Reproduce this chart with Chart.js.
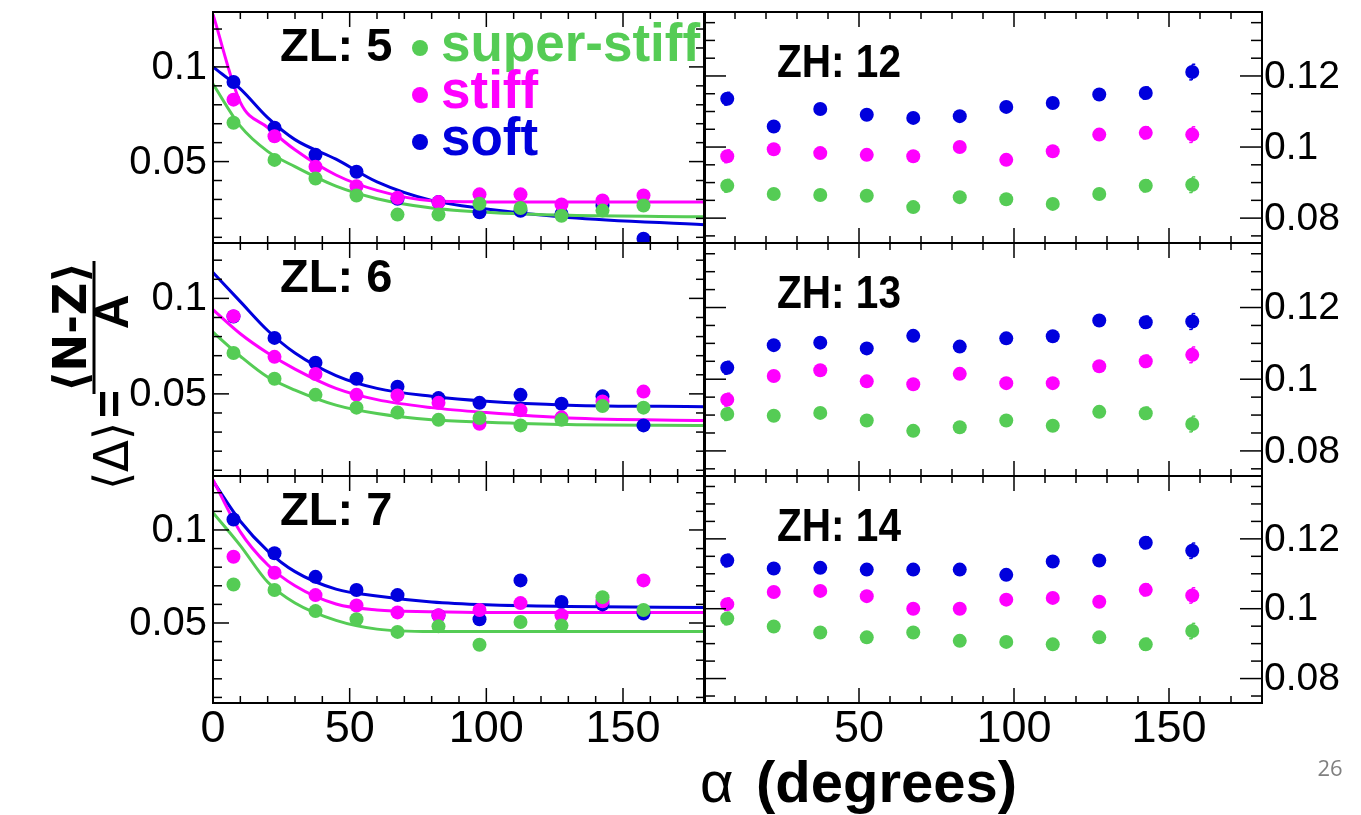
<!DOCTYPE html>
<html>
<head>
<meta charset="utf-8">
<script src="https://cdn.jsdelivr.net/npm/chart.js@4.4.0/dist/chart.umd.min.js"></script>
<style>
  html, body { margin: 0; padding: 0; background: #fff; }
  #wrap { position: relative; width: 1361px; height: 815px; overflow: hidden; }
  #wrap canvas { position: absolute; left: 0; top: 0; }
</style>
</head>
<body>
<div id="wrap"></div>
<script>
// emission angle of each point (degrees), same in every panel
const alpha = [7.5, 22.5, 37.5, 52.5, 67.5, 82.5, 97.5, 112.5, 127.5, 142.5, 157.5];
// typical error bar half-height at each angle (larger at the edges)
const typicalErr = [0.0018, 0.0008, 0.0007, 0.0007, 0.0007, 0.0008, 0.0009, 0.0010, 0.0013, 0.0017, 0.0022];
const fitX = [0, 10, 20, 30, 45, 60, 80, 100, 130, 180];

// ZL: 5
const zl5SuperStiff = [0.0705, 0.0509, 0.0411, 0.0321, 0.0220, 0.0220, 0.0277, 0.0255, 0.0214, 0.0241, 0.0268];
const zl5Stiff      = [0.0827, 0.0634, 0.0473, 0.0370, 0.0309, 0.0286, 0.0327, 0.0327, 0.0273, 0.0295, 0.0321];
const zl5Soft       = [0.0920, 0.0679, 0.0536, 0.0446, 0.0304, 0.0286, 0.0232, 0.0240, 0.0223, 0.0268, 0.0093];
const zl5FitSuperStiff = [0.0910, 0.0687, 0.0554, 0.0473, 0.0370, 0.0304, 0.0255, 0.0232, 0.0216, 0.0209];
const zl5FitStiff      = [0.1277, 0.0813, 0.0680, 0.0562, 0.0429, 0.0348, 0.0293, 0.0287, 0.0286, 0.0286];
const zl5FitSoft       = [0.1000, 0.0884, 0.0732, 0.0616, 0.0513, 0.0393, 0.0295, 0.0250, 0.0205, 0.0166];

// ZL: 6
const zl6SuperStiff = [0.0714, 0.0579, 0.0495, 0.0428, 0.0402, 0.0364, 0.0374, 0.0335, 0.0364, 0.0436, 0.0428];
const zl6Stiff      = [0.0907, 0.0694, 0.0604, 0.0495, 0.0492, 0.0453, 0.0343, 0.0414, 0.0377, 0.0460, 0.0512];
const zl6Soft       = [0.0905, 0.0793, 0.0663, 0.0579, 0.0537, 0.0478, 0.0453, 0.0495, 0.0448, 0.0487, 0.0335];
const zl6FitSuperStiff = [0.0823, 0.0697, 0.0588, 0.0520, 0.0441, 0.0397, 0.0364, 0.0352, 0.0340, 0.0335];
const zl6FitStiff      = [0.0941, 0.0815, 0.0714, 0.0630, 0.0529, 0.0470, 0.0428, 0.0402, 0.0374, 0.0360];
const zl6FitSoft       = [0.1135, 0.0983, 0.0832, 0.0714, 0.0596, 0.0529, 0.0487, 0.0461, 0.0441, 0.0433];

// ZL: 7
const zl7SuperStiff = [0.0707, 0.0677, 0.0564, 0.0520, 0.0452, 0.0482, 0.0383, 0.0505, 0.0486, 0.0639, 0.0570];
const zl7Stiff      = [0.0856, 0.0770, 0.0650, 0.0594, 0.0557, 0.0542, 0.0570, 0.0607, 0.0542, 0.0617, 0.0729];
const zl7Soft       = [0.1056, 0.0875, 0.0748, 0.0677, 0.0650, 0.0540, 0.0520, 0.0729, 0.0613, 0.0600, 0.0551];
const zl7FitSuperStiff = [0.1093, 0.0916, 0.0720, 0.0607, 0.0514, 0.0467, 0.0454, 0.0454, 0.0454, 0.0454];
const zl7FitStiff      = [0.1270, 0.0990, 0.0813, 0.0700, 0.0602, 0.0570, 0.0561, 0.0557, 0.0557, 0.0557];
const zl7FitSoft       = [0.1262, 0.1047, 0.0888, 0.0776, 0.0682, 0.0645, 0.0613, 0.0598, 0.0589, 0.0583];

// ZH: 12
const zh12SuperStiff = [0.0891, 0.0868, 0.0865, 0.0863, 0.0831, 0.0859, 0.0853, 0.0840, 0.0868, 0.0891, 0.0894];
const zh12Stiff      = [0.0974, 0.0994, 0.0983, 0.0978, 0.0974, 0.1000, 0.0964, 0.0988, 0.1035, 0.1040, 0.1035];
const zh12Soft       = [0.1136, 0.1058, 0.1107, 0.1091, 0.1082, 0.1087, 0.1113, 0.1124, 0.1148, 0.1152, 0.1211];

// ZH: 13
const zh13SuperStiff = [0.0903, 0.0898, 0.0906, 0.0885, 0.0856, 0.0866, 0.0885, 0.0870, 0.0909, 0.0905, 0.0875];
const zh13Stiff      = [0.0943, 0.1009, 0.1025, 0.0994, 0.0986, 0.1015, 0.0989, 0.0989, 0.1036, 0.1050, 0.1068];
const zh13Soft       = [0.1032, 0.1095, 0.1102, 0.1086, 0.1121, 0.1091, 0.1114, 0.1120, 0.1164, 0.1159, 0.1161];

// ZH: 14
const zh14SuperStiff = [0.0972, 0.0949, 0.0932, 0.0918, 0.0932, 0.0908, 0.0905, 0.0898, 0.0918, 0.0898, 0.0936];
const zh14Stiff      = [0.1013, 0.1048, 0.1051, 0.1036, 0.1000, 0.1000, 0.1026, 0.1031, 0.1020, 0.1054, 0.1038];
const zh14Soft       = [0.1138, 0.1115, 0.1117, 0.1112, 0.1112, 0.1112, 0.1097, 0.1135, 0.1138, 0.1189, 0.1166];

// tick labels
const xTicksLeft = [0, 50, 100, 150];
const xTicksRight = [50, 100, 150];
const yTicksLeft = [0.05, 0.1];
const yTicksRight = [0.08, 0.1, 0.12];

const seriesNames = ['super-stiff', 'stiff', 'soft'];
const colors = ['#55cc55', '#ff00ff', '#0000dd'];

const W = 1361, H = 815;
const cols = [{ left: 213, right: 705 }, { left: 704, right: 1262 }];
const rows = [{ top: 12, bottom: 243 }, { top: 243, bottom: 476 }, { top: 476, bottom: 703 }];

const panels = [
  { name: 'ZL: 5', col: 0, row: 0, pts: [zl5SuperStiff, zl5Stiff, zl5Soft], fits: [zl5FitSuperStiff, zl5FitStiff, zl5FitSoft] },
  { name: 'ZL: 6', col: 0, row: 1, pts: [zl6SuperStiff, zl6Stiff, zl6Soft], fits: [zl6FitSuperStiff, zl6FitStiff, zl6FitSoft] },
  { name: 'ZL: 7', col: 0, row: 2, pts: [zl7SuperStiff, zl7Stiff, zl7Soft], fits: [zl7FitSuperStiff, zl7FitStiff, zl7FitSoft] },
  { name: 'ZH: 12', col: 1, row: 0, pts: [zh12SuperStiff, zh12Stiff, zh12Soft] },
  { name: 'ZH: 13', col: 1, row: 1, pts: [zh13SuperStiff, zh13Stiff, zh13Soft] },
  { name: 'ZH: 14', col: 1, row: 2, pts: [zh14SuperStiff, zh14Stiff, zh14Soft] }
];

function line(ctx, x1, y1, x2, y2) {
  ctx.beginPath(); ctx.moveTo(x1, y1); ctx.lineTo(x2, y2); ctx.stroke();
}

// small vertical error bars under the markers
const errorBars = {
  id: 'errorBars',
  beforeDatasetsDraw(chart) {
    const ctx = chart.ctx, ys = chart.scales.y;
    ctx.save();
    ctx.lineWidth = 1.5;
    chart.data.datasets.forEach((ds, i) => {
      if (!ds.err) return;
      const meta = chart.getDatasetMeta(i);
      ctx.strokeStyle = ds.borderColor;
      meta.data.forEach((pt, j) => {
        const v = ds.data[j].y, e = ds.err[j];
        const y1 = ys.getPixelForValue(v + e), y2 = ys.getPixelForValue(v - e);
        line(ctx, pt.x, y1, pt.x, y2);
        line(ctx, pt.x, y1, pt.x + 3, y1);
        line(ctx, pt.x, y2, pt.x - 3, y2);
      });
    });
    ctx.restore();
  }
};

// ROOT-like frame, ticks and labels
const rootFrame = {
  id: 'rootFrame',
  afterDatasetsDraw(chart, args, o) {
    const ctx = chart.ctx, a = chart.chartArea;
    const xs = chart.scales.x, ys = chart.scales.y;
    ctx.save();
    ctx.strokeStyle = '#000';
    ctx.lineWidth = 1.5;
    // x ticks, minor every 10
    for (let k = 0; k <= 18; k++) {
      const v = k * 10, px = xs.getPixelForValue(v);
      if (px < a.left + 2 || px > a.right - 2) continue;
      const len = v % 50 === 0 ? 15 : 7;
      line(ctx, px, a.bottom, px, a.bottom - len);
      line(ctx, px, a.top, px, a.top + len);
    }
    // y ticks
    const k0 = Math.ceil(ys.min / o.yMinor - 1e-6), k1 = Math.floor(ys.max / o.yMinor + 1e-6);
    for (let k = k0; k <= k1; k++) {
      const v = k * o.yMinor, py = ys.getPixelForValue(v);
      const major = o.yTicks.some(t => Math.abs(t - v) < 1e-6);
      const len = major ? o.yMajorLen : o.yMinorLen;
      line(ctx, a.left, py, a.left + len, py);
      line(ctx, a.right, py, a.right - len, py);
    }
    ctx.lineWidth = 2;
    ctx.strokeRect(a.left, a.top, a.right - a.left, a.bottom - a.top);

    ctx.fillStyle = '#000';
    ctx.textBaseline = 'middle';
    o.yTicks.forEach(t => {
      const py = ys.getPixelForValue(t);
      if (o.yLabelSide === 'left') {
        ctx.font = '40px "Liberation Sans", Arial, sans-serif';
        ctx.textAlign = 'right'; ctx.fillText(String(t), a.left - 6, py + 1);
      } else {
        ctx.font = '39px "Liberation Sans", Arial, sans-serif';
        ctx.textAlign = 'left'; ctx.fillText(String(t), a.right + 2, py + 1);
      }
    });
    if (o.xTicks) {
      ctx.textAlign = 'center';
      ctx.textBaseline = 'top';
      ctx.font = '45px "Liberation Sans", Arial, sans-serif';
      o.xTicks.forEach(t => ctx.fillText(String(t), xs.getPixelForValue(t), a.bottom + 4));
    }
    // panel label
    ctx.font = 'bold 47px "Liberation Sans", Arial, sans-serif';
    ctx.textAlign = 'left';
    ctx.textBaseline = 'middle';
    ctx.fillText(o.name, a.left + o.nameDx, a.top + o.nameDy, o.nameW);
    ctx.restore();
  }
};

// legend inside ZL: 5 plus axis titles, drawn once
const extras = {
  id: 'extras',
  afterDraw(chart, args, o) {
    if (!o.on) return;
    const ctx = chart.ctx;
    ctx.save();
    ctx.textBaseline = 'middle';
    ctx.textAlign = 'left';
    ctx.font = 'bold 53px "Liberation Sans", Arial, sans-serif';
    seriesNames.forEach((n, i) => {
      const y = 46 + i * 47;
      ctx.fillStyle = colors[i];
      ctx.beginPath(); ctx.arc(420, y + 2, 8, 0, Math.PI * 2); ctx.fill();
      ctx.fillText(n, 441, y, 262);
    });
    // x title
    ctx.fillStyle = '#000';
    ctx.textBaseline = 'alphabetic';
    ctx.font = '58px "Liberation Sans", Arial, sans-serif';
    ctx.fillText('\u03b1', 700, 802);
    ctx.font = 'bold 58px "Liberation Sans", Arial, sans-serif';
    ctx.fillText('(degrees)', 756, 802, 275);
    // y title, rotated
    ctx.save();
    ctx.translate(128, 490);
    ctx.rotate(-Math.PI / 2);
    ctx.font = '48px "DejaVu Sans", sans-serif';
    ctx.fillText('\u27e8\u0394\u27e9', 0, 0, 68);
    ctx.font = 'bold 48px "Liberation Sans", Arial, sans-serif';
    ctx.fillText('=', 72, -2);
    ctx.textAlign = 'center';
    ctx.fillText('A', 178, 0);
    ctx.font = 'bold 46px "DejaVu Sans", sans-serif';
    ctx.fillText('\u27e8N-Z\u27e9', 163, -42, 130);
    ctx.lineWidth = 3;
    ctx.strokeStyle = '#000';
    line(ctx, 96, -34, 229, -34);
    ctx.restore();
    // page number
    ctx.fillStyle = '#808080';
    ctx.font = '22px "Open Sans", sans-serif';
    ctx.textAlign = 'center';
    ctx.textBaseline = 'middle';
    ctx.fillText('26', 1330, 770);
    ctx.restore();
  }
};

const wrap = document.getElementById('wrap');
panels.forEach((p, idx) => {
  const c = cols[p.col], r = rows[p.row];
  const cv = document.createElement('canvas');
  cv.width = W; cv.height = H;
  cv.style.width = W + 'px'; cv.style.height = H + 'px';
  wrap.appendChild(cv);
  const left = p.col === 0;
  const datasets = [];
  p.pts.forEach((vals, i) => {
    datasets.push({
      type: 'scatter',
      label: seriesNames[i],
      data: alpha.map((x, j) => ({ x: x, y: vals[j] })),
      err: typicalErr,
      backgroundColor: colors[i],
      borderColor: colors[i],
      pointRadius: 7,
      pointBorderWidth: 0,
      showLine: false
    });
  });
  if (p.fits) {
    p.fits.forEach((vals, i) => {
      datasets.push({
        type: 'line',
        label: seriesNames[i] + ' fit',
        data: fitX.map((x, j) => ({ x: x, y: vals[j] })),
        borderColor: colors[i],
        borderWidth: 3,
        pointRadius: 0,
        cubicInterpolationMode: 'monotone',
        fill: false
      });
    });
  }
  new Chart(cv.getContext('2d'), {
    data: { datasets: datasets },
    options: {
      responsive: false,
      animation: false,
      events: [],
      layout: { padding: { left: c.left, right: W - c.right, top: r.top, bottom: H - r.bottom } },
      scales: {
        x: { type: 'linear', min: 0, max: 180, display: false },
        y: { type: 'linear', min: left ? 0.007 : 0.073, max: left ? 0.129 : 0.138, display: false }
      },
      plugins: {
        legend: { display: false },
        tooltip: { enabled: false },
        rootFrame: {
          name: p.name,
          nameDx: left ? 67 : 73,
          nameDy: left ? 36 : 52,
          nameW: left ? 116 : 124,
          yTicks: left ? yTicksLeft : yTicksRight,
          yMinor: left ? 0.01 : 0.005,
          yMajorLen: left ? 16 : 22,
          yMinorLen: left ? 9 : 11,
          yLabelSide: left ? 'left' : 'right',
          xTicks: p.row === 2 ? (left ? xTicksLeft : xTicksRight) : null
        },
        extras: { on: idx === 0 }
      }
    },
    plugins: [errorBars, rootFrame, extras]
  });
});
</script>
</body>
</html>
